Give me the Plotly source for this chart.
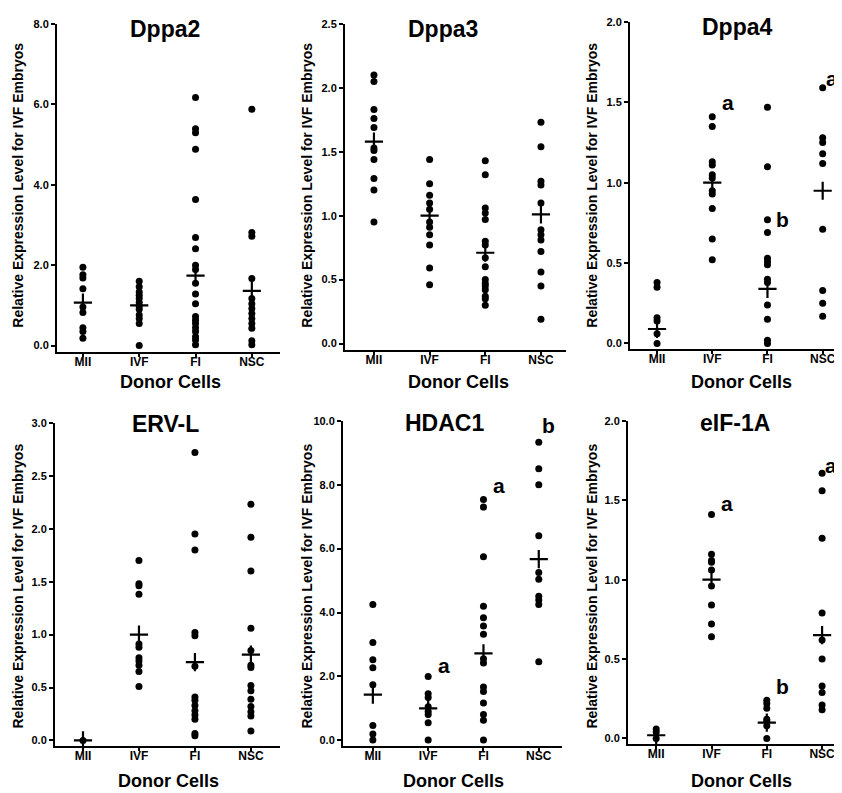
import plotly.graph_objects as go

# page offset: the browser body has an 8px margin, so the figure is made a bit
# smaller and every position is given relative to the page
OFF = 8
W, H = 842 - OFF, 793 - OFF

categories = ["MII", "IVF", "FI", "NSC"]
genes = ["Dppa2", "Dppa3", "Dppa4", "ERV-L", "HDAC1", "eIF-1A"]

# ---- data: individual embryo values per donor group ----
dppa2_mii = [1.95, 1.76, 1.68, 1.41, 0.96, 0.82, 0.44, 0.35, 0.18]
dppa2_ivf = [1.60, 1.46, 1.33, 1.25, 1.17, 1.07, 0.97, 0.90, 0.76, 0.67, 0.55, 0.0]
dppa2_fi = [6.17, 5.39, 5.29, 4.88, 3.63, 2.69, 2.41, 2.0, 1.89, 1.55, 1.28, 1.04,
            0.72, 0.63, 0.55, 0.44, 0.35, 0.22, 0.14, 0.02]
dppa2_nsc = [5.88, 2.81, 2.72, 1.67, 1.17, 1.04, 0.92, 0.80, 0.67, 0.55, 0.43, 0.12, 0.02]
dppa2_mean = [1.07, 1.0, 1.74, 1.36]

dppa3_mii = [2.10, 2.05, 1.83, 1.76, 1.69, 1.53, 1.51, 1.44, 1.29, 1.20, 0.95]
dppa3_ivf = [1.44, 1.25, 1.16, 1.10, 1.05, 0.95, 0.91, 0.85, 0.77, 0.59, 0.46]
dppa3_fi = [1.43, 1.32, 1.06, 1.02, 0.97, 0.80, 0.77, 0.67, 0.60, 0.50, 0.47, 0.45,
            0.42, 0.37, 0.35, 0.30]
dppa3_nsc = [1.73, 1.54, 1.27, 1.24, 1.10, 0.89, 0.85, 0.81, 0.72, 0.56, 0.45, 0.19]
dppa3_mean = [1.58, 1.0, 0.71, 1.01]

dppa4_mii = [0.38, 0.35, 0.16, 0.14, 0.06, 0.0]
dppa4_ivf = [1.41, 1.35, 1.13, 1.11, 1.05, 1.03, 0.95, 0.93, 0.84, 0.65, 0.52]
dppa4_fi = [1.47, 1.10, 0.77, 0.69, 0.53, 0.51, 0.49, 0.40, 0.38, 0.24, 0.15, 0.02, 0.0]
dppa4_nsc = [1.59, 1.28, 1.25, 1.18, 1.12, 0.71, 0.33, 0.25, 0.17]
dppa4_mean = [0.09, 1.0, 0.34, 0.95]

ervl_mii = [0.0]
ervl_ivf = [1.70, 1.48, 1.46, 1.38, 0.91, 0.88, 0.78, 0.75, 0.71, 0.65, 0.51]
ervl_fi = [2.72, 1.95, 1.80, 1.02, 0.99, 0.70, 0.41, 0.38, 0.33, 0.28, 0.24, 0.20, 0.066, 0.044]
ervl_nsc = [2.23, 1.92, 1.60, 1.06, 0.85, 0.71, 0.69, 0.52, 0.47, 0.39, 0.32, 0.27, 0.23, 0.09]
ervl_mean = [0.0, 1.0, 0.74, 0.81]

hdac1_mii = [4.25, 3.06, 2.52, 2.27, 1.74, 0.46, 0.20, 0.01]
hdac1_ivf = [2.0, 1.46, 1.34, 1.05, 0.90, 0.81, 0.55, 0.01]
hdac1_fi = [7.54, 7.30, 5.75, 4.20, 3.84, 3.58, 3.32, 2.55, 2.42, 1.67, 1.53, 1.17, 0.81, 0.63, 0.01]
hdac1_nsc = [9.33, 8.50, 8.0, 6.40, 5.25, 5.04, 4.51, 4.39, 4.25, 2.46]
hdac1_mean = [1.43, 1.0, 2.72, 5.67]

eif_mii = [0.06, 0.04, 0.0]
eif_ivf = [1.41, 1.16, 1.12, 1.11, 1.06, 0.96, 0.84, 0.72, 0.64]
eif_fi = [0.24, 0.22, 0.19, 0.12, 0.11, 0.08, 0.0]
eif_nsc = [1.67, 1.56, 1.26, 0.79, 0.62, 0.50, 0.33, 0.29, 0.21, 0.18]
eif_mean = [0.02, 1.0, 0.10, 0.65]

panel_points = [
    [dppa2_mii, dppa2_ivf, dppa2_fi, dppa2_nsc],
    [dppa3_mii, dppa3_ivf, dppa3_fi, dppa3_nsc],
    [dppa4_mii, dppa4_ivf, dppa4_fi, dppa4_nsc],
    [ervl_mii, ervl_ivf, ervl_fi, ervl_nsc],
    [hdac1_mii, hdac1_ivf, hdac1_fi, hdac1_nsc],
    [eif_mii, eif_ivf, eif_fi, eif_nsc],
]
panel_means = [dppa2_mean, dppa3_mean, dppa4_mean, ervl_mean, hdac1_mean, eif_mean]
y_ticks = [
    [0, 2, 4, 6, 8],
    [0, 0.5, 1.0, 1.5, 2.0, 2.5],
    [0, 0.5, 1.0, 1.5, 2.0],
    [0, 0.5, 1.0, 1.5, 2.0, 2.5, 3.0],
    [0, 2, 4, 6, 8, 10],
    [0, 0.5, 1.0, 1.5, 2.0],
]
# significance letters: (panel index, category index, letter, y value)
letters = [
    (2, 1, "a", 1.50), (2, 2, "b", 0.77), (2, 3, "a", 1.65),
    (4, 1, "a", 2.33), (4, 2, "a", 7.98), (4, 3, "b", 9.84),
    (5, 1, "a", 1.48), (5, 2, "b", 0.33), (5, 3, "a", 1.72),
]
y_title = "Relative Expression Level for IVF Embryos"
x_title = "Donor Cells"

# ---- layout geometry (page pixels) ----
geom = [
    # x px domain, y px domain(top,bottom), xrange, yrange
    ((57, 280), (18, 349), (-0.46, 3.50), (-0.17, 8.0)),
    ((345, 566), (18, 347), (-0.52, 3.45), (-0.054, 2.5)),
    ((630, 842), (16, 346), (-0.49, 3.35), (-0.037, 2.0)),
    ((55, 280), (420, 746), (-0.50, 3.52), (-0.056, 3.0)),
    ((343, 562), (418, 746), (-0.54, 3.42), (-0.19, 10.0)),
    ((628, 842), (418, 744), (-0.51, 3.36), (-0.0375, 2.0)),
]
title_pos = [(165, 23), (443, 23), (737, 21), (165, 421), (444, 420), (735, 420)]
ytitle_pos = [(18, 181), (307, 181), (592, 181), (18, 585), (307, 585), (592, 585)]
xtitle_pos = [(170, 379), (458, 379), (741, 379), (168, 781), (453, 781), (741, 781)]


def px(x):
    return (x - OFF) / W


def py(y):
    return 1 - (y - OFF) / H


FONT = "Liberation Sans, Arial, sans-serif"
fig = go.Figure()
annotations = []
layout = {}

for i in range(6):
    sfx = "" if i == 0 else str(i + 1)
    xa, ya = "x" + sfx, "y" + sfx
    xs, ys = [], []
    for c, vals in enumerate(panel_points[i]):
        xs += [c] * len(vals)
        ys += vals
    fig.add_trace(go.Scatter(
        x=xs, y=ys, mode="markers", xaxis=xa, yaxis=ya, showlegend=False,
        marker=dict(symbol="circle", size=7, color="black"), cliponaxis=False))
    fig.add_trace(go.Scatter(
        x=list(range(4)), y=panel_means[i], mode="markers", xaxis=xa, yaxis=ya,
        showlegend=False, cliponaxis=False,
        marker=dict(symbol="cross-thin", size=13, color="black",
                    line=dict(width=2.2, color="black"))))

    (x0, x1), (yt, yb), xr, yr = geom[i]
    layout["xaxis" + sfx] = dict(
        domain=[px(x0), min(1.0, px(x1))], range=list(xr), anchor=ya,
        tickvals=list(range(4)), ticktext=categories,
        showline=True, linecolor="black", linewidth=2,
        ticks="outside", ticklen=3, tickwidth=1.5, tickcolor="black",
        ticklabelstandoff=-6,
        tickfont=dict(family=FONT, size=12, color="black", weight="bold"),
        showgrid=False, zeroline=False, fixedrange=True)
    layout["yaxis" + sfx] = dict(
        domain=[py(yb), py(yt)], range=list(yr), anchor=xa,
        tickvals=y_ticks[i], tickformat=".1f",
        showline=True, linecolor="black", linewidth=2,
        ticks="outside", ticklen=4, tickwidth=1.5, tickcolor="black",
        tickfont=dict(family=FONT, size=11, color="black", weight="bold"),
        showgrid=False, zeroline=False, fixedrange=True)

    tx, ty = title_pos[i]
    annotations.append(dict(
        text=genes[i], x=px(tx), y=py(ty), xref="paper", yref="paper",
        showarrow=False, xanchor="center", yanchor="middle",
        font=dict(family=FONT, size=23, color="black", weight="bold")))
    yx, yy = ytitle_pos[i]
    annotations.append(dict(
        text=y_title, x=px(yx), y=py(yy), xref="paper", yref="paper",
        showarrow=False, xanchor="center", yanchor="middle", textangle=-90,
        font=dict(family=FONT, size=14, color="black", weight="bold")))
    xx, xy = xtitle_pos[i]
    annotations.append(dict(
        text=x_title, x=px(xx), y=py(xy), xref="paper", yref="paper",
        showarrow=False, xanchor="center", yanchor="middle",
        font=dict(family=FONT, size=18, color="black", weight="bold")))

for (p, c, letter, yv) in letters:
    sfx = "" if p == 0 else str(p + 1)
    dx = 0.17 if c == 3 else 0.28
    annotations.append(dict(
        text=letter, x=c + dx, y=yv, xref="x" + sfx, yref="y" + sfx,
        showarrow=False, xanchor="center", yanchor="middle",
        font=dict(family=FONT, size=21, color="black", weight="bold")))

fig.update_layout(
    width=W, height=H, margin=dict(l=0, r=0, t=0, b=0),
    paper_bgcolor="white", plot_bgcolor="white",
    annotations=annotations, **layout)

fig.write_html("out.html")
